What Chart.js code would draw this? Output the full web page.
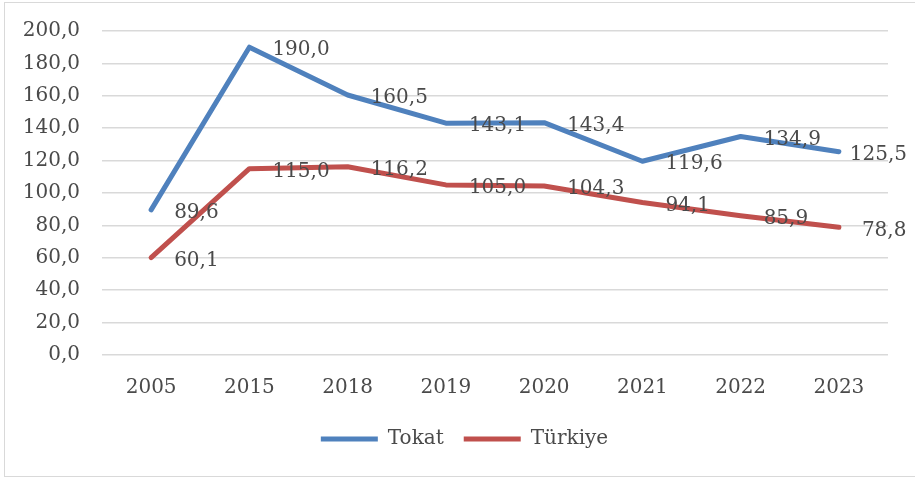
<!DOCTYPE html>
<html>
<head>
<meta charset="utf-8">
<script src="https://cdn.jsdelivr.net/npm/chart.js@4.4.0/dist/chart.umd.min.js"></script>
<style>
  html, body { margin: 0; padding: 0; background: #fff; }
  #wrap { width: 915px; height: 478px; position: relative; }
</style>
</head>
<body>
<div id="wrap"><canvas id="chart" width="915" height="478"></canvas></div>
<script>
// data
const years = ["2005", "2015", "2018", "2019", "2020", "2021", "2022", "2023"];
const tokat = [89.6, 190.0, 160.5, 143.1, 143.4, 119.6, 134.9, 125.5];
const turkiye = [60.1, 115.0, 116.2, 105.0, 104.3, 94.1, 85.9, 78.8];

const FONT = "'DejaVu Serif', 'Liberation Serif', serif";
const TEXT = "#4a4a4a";

function fmt(v) {
  return Number(v).toFixed(1).replace(".", ",");
}

// value labels to the right of each point (kept inside the chart like Excel does)
const pointLabels = {
  id: "pointLabels",
  afterDatasetsDraw(chart) {
    const ctx = chart.ctx;
    ctx.save();
    ctx.font = "20px " + FONT;
    ctx.fillStyle = TEXT;
    ctx.textAlign = "left";
    ctx.textBaseline = "middle";
    chart.data.datasets.forEach((ds, i) => {
      const meta = chart.getDatasetMeta(i);
      meta.data.forEach((pt, j) => {
        const txt = fmt(ds.data[j]);
        const w = ctx.measureText(txt).width;
        const x = Math.min(pt.x + 23, 907 - w);
        ctx.fillText(txt, x, pt.y + 3);
      });
    });
    ctx.restore();
  },
};

// thin frame round the whole chart
const frame = {
  id: "frame",
  beforeDraw(chart) {
    const ctx = chart.ctx;
    ctx.save();
    ctx.strokeStyle = "#d9d9d9";
    ctx.lineWidth = 1;
    ctx.strokeRect(4.5, 2.5, 920, 474);
    ctx.restore();
  },
};

// nudge the legend a bit right and up
const legendShift = {
  id: "legendShift",
  afterLayout(chart) {
    const lg = chart.legend;
    if (!lg) return;
    lg.left += 18;
    lg.right += 18;
    lg.top -= 8;
    lg.bottom -= 8;
  },
};

new Chart(document.getElementById("chart"), {
  type: "line",
  data: {
    labels: years,
    datasets: [
      {
        label: "Tokat",
        data: tokat,
        borderColor: "#4f81bd",
        backgroundColor: "#4f81bd",
        borderWidth: 5,
        borderCapStyle: "round",
        borderJoinStyle: "round",
        pointRadius: 0,
        tension: 0,
      },
      {
        label: "Türkiye",
        data: turkiye,
        borderColor: "#c0504d",
        backgroundColor: "#c0504d",
        borderWidth: 5,
        borderCapStyle: "round",
        borderJoinStyle: "round",
        pointRadius: 0,
        tension: 0,
      },
    ],
  },
  options: {
    responsive: false,
    animation: false,
    layout: {
      padding: { left: 5, right: 27, top: 31, bottom: 11 },
    },
    scales: {
      x: {
        offset: true,
        grid: { display: false, drawTicks: false },
        border: { display: false },
        ticks: {
          color: TEXT,
          font: { family: FONT, size: 20 },
          padding: 21,
          maxRotation: 0,
        },
        afterFit: (s) => {
          s.height -= 4;
        },
      },
      y: {
        min: 0,
        max: 200,
        grid: { color: "#d9d9d9", lineWidth: 1.5, drawTicks: false },
        border: { display: false },
        ticks: {
          stepSize: 20,
          color: TEXT,
          font: { family: FONT, size: 20 },
          padding: 22,
          callback: (v) => fmt(v),
        },
        afterFit: (s) => {
          s.width = 97;
          s.paddingTop = 0;
          s.paddingBottom = 0;
        },
      },
    },
    plugins: {
      legend: {
        position: "bottom",
        labels: {
          usePointStyle: true,
          pointStyle: "line",
          pointStyleWidth: 57,
          color: TEXT,
          font: { family: FONT, size: 20 },
          padding: 20,
        },
      },
      tooltip: { enabled: false },
    },
  },
  plugins: [pointLabels, frame, legendShift],
});
</script>
</body>
</html>
